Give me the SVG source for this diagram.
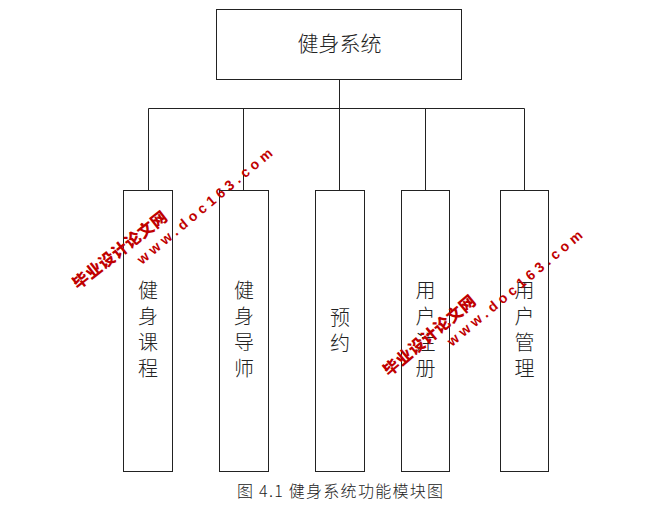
<svg xmlns="http://www.w3.org/2000/svg" width="664" height="516" viewBox="0 0 664 516">
<style>
.box{fill:#fff;stroke:#222;stroke-width:1}
.ln{stroke:#222;stroke-width:1;fill:none}
.t{font-family:"Noto Sans CJK SC","Noto Sans CJK JP",sans-serif;font-weight:300;fill:#222;text-anchor:middle}
.wm{font-family:"Noto Sans CJK SC",sans-serif;font-weight:900;fill:#c00000;font-size:16px;letter-spacing:0.5px}
.ww{font-family:"Liberation Sans",sans-serif;font-weight:bold;fill:#c00000;font-size:14px;letter-spacing:4.2px}
</style>
<rect width="664" height="516" fill="#fff"/>
<g id="connectors">
<path class="ln" d="M339.5 80V108.5M148.5 108.5H524.5M148.5 108.5V190M243.5 108.5V190M339.5 108.5V190M425.5 108.5V190M524.5 108.5V190"/>
</g>
<g id="root"><rect class="box" x="216.5" y="9.5" width="245" height="70"/><text class="t" x="339.5" y="51" font-size="21">健身系统</text></g>
<g id="n1"><rect class="box" x="123.5" y="190.5" width="49" height="281"/><text class="t" font-size="20"><tspan x="148" y="298">健</tspan><tspan x="148" y="324">身</tspan><tspan x="148" y="350">课</tspan><tspan x="148" y="376">程</tspan></text></g>
<g id="n2"><rect class="box" x="219.5" y="190.5" width="49" height="281"/><text class="t" font-size="20"><tspan x="244" y="298">健</tspan><tspan x="244" y="324">身</tspan><tspan x="244" y="350">导</tspan><tspan x="244" y="376">师</tspan></text></g>
<g id="n3"><rect class="box" x="315.5" y="190.5" width="49" height="281"/><text class="t" font-size="20"><tspan x="340" y="325">预</tspan><tspan x="340" y="351">约</tspan></text></g>
<g id="n4"><rect class="box" x="401.5" y="190.5" width="48" height="281"/><text class="t" font-size="20"><tspan x="425.5" y="298">用</tspan><tspan x="425.5" y="324">户</tspan><tspan x="425.5" y="350">注</tspan><tspan x="425.5" y="376">册</tspan></text></g>
<g id="n5"><rect class="box" x="500.5" y="190.5" width="48" height="281"/><text class="t" font-size="20"><tspan x="524.5" y="298">用</tspan><tspan x="524.5" y="324">户</tspan><tspan x="524.5" y="350">管</tspan><tspan x="524.5" y="376">理</tspan></text></g>
<text class="t" x="340" y="497" font-size="16" font-weight="400" textLength="206" lengthAdjust="spacing">图 4.1 健身系统功能模块图</text>
<g id="watermarks">
<text class="wm" transform="translate(78,290) rotate(-38)">毕业设计论文网</text>
<text class="ww" transform="translate(142,265) rotate(-40)">www.doc163.com</text>
<text class="wm" transform="translate(389,377) rotate(-40)">毕业设计论文网</text>
<text class="ww" transform="translate(452,347) rotate(-40)">www.doc163.com</text>
</g>
</svg>
